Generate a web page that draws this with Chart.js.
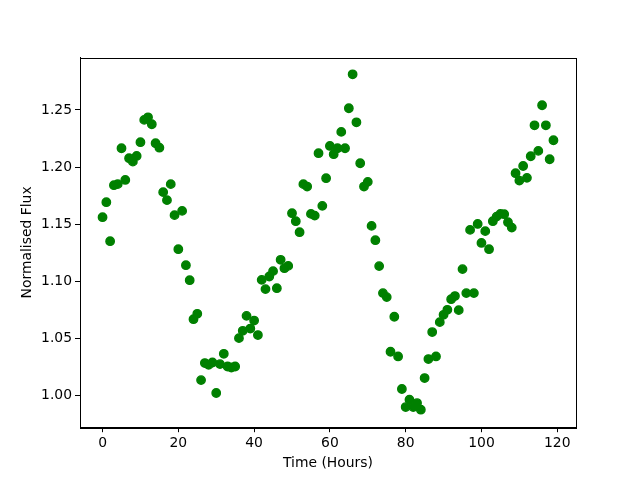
<!DOCTYPE html>
<html>
<head>
<meta charset="utf-8">
<script src="https://cdn.jsdelivr.net/npm/chart.js@4/dist/chart.umd.min.js"></script>
<style>
html,body{margin:0;padding:0;background:#fff;}
#wrap{width:640px;height:480px;}
</style>
</head>
<body>
<div id="wrap"><canvas id="c" width="640" height="480"></canvas></div>
<script>
const timeHours = Array.from({length: 120}, (_, i) => i);
const normalisedFlux = [
  1.1562, 1.1693, 1.1352, 1.1842, 1.1851, 1.2165, 1.1888, 1.2078, 1.2048, 1.2098,
  1.2218, 1.2413, 1.2436, 1.2375, 1.2209, 1.2170, 1.1781, 1.1711, 1.1851, 1.1580,
  1.1282, 1.1617, 1.1142, 1.1011, 1.0670, 1.0717, 1.0137, 1.0286, 1.0271, 1.0291,
  1.0024, 1.0277, 1.0367, 1.0256, 1.0247, 1.0256, 1.0504, 1.0568, 1.0699, 1.0588,
  1.0658, 1.0531, 1.1014, 1.0933, 1.1043, 1.1090, 1.0941, 1.1189, 1.1116, 1.1136,
  1.1597, 1.1527, 1.1431, 1.1851, 1.1830, 1.1591, 1.1576, 1.2122, 1.1661, 1.1903,
  1.2185, 1.2113, 1.2165, 1.2308, 1.2165, 1.2515, 1.2812, 1.2392, 1.2034, 1.1830,
  1.1871, 1.1486, 1.1361, 1.1134, 1.0898, 1.0863, 1.0385, 1.0691, 1.0344, 1.0059,
  0.9901, 0.9965, 0.9901, 0.9936, 0.9878, 1.0155, 1.0321, 1.0557, 1.0344, 1.0644,
  1.0708, 1.0752, 1.0845, 1.0872, 1.0749, 1.1108, 1.0898, 1.1451, 1.0898, 1.1503,
  1.1337, 1.1440, 1.1282, 1.1527, 1.1567, 1.1591, 1.1588, 1.1518, 1.1471, 1.1947,
  1.1882, 1.2010, 1.1906, 1.2095, 1.2366, 1.2142, 1.2541, 1.2366, 1.2069, 1.2235
];
const xTicks = [0, 20, 40, 60, 80, 100, 120];
const yTicks = [1.00, 1.05, 1.10, 1.15, 1.20, 1.25];

const points = timeHours.map((t, i) => ({x: t, y: normalisedFlux[i]}));

const xMin = -5.95, xMax = 124.95;
const yMin = 0.9725, yMax = 1.2958;

const font = {family: 'DejaVu Sans', size: 13.9};

const frame = {
  id: 'frame',
  afterDraw(chart) {
    const {ctx, chartArea: a} = chart;
    ctx.save();
    ctx.strokeStyle = '#000';
    ctx.lineWidth = 1;
    ctx.strokeRect(Math.round(a.left) + 0.5, Math.round(a.top) + 0.5,
                   Math.round(a.right - a.left), Math.round(a.bottom - a.top));
    ctx.restore();
  }
};

new Chart(document.getElementById('c'), {
  type: 'scatter',
  data: {
    datasets: [{
      data: points,
      backgroundColor: '#008000',
      borderColor: '#008000',
      pointRadius: 4.2,
      pointBorderWidth: 1.4,
      pointHoverRadius: 4.2
    }]
  },
  options: {
    responsive: false,
    animation: false,
    devicePixelRatio: 1,
    layout: {padding: {left: 0, right: 64, top: 57.6, bottom: 0}},
    plugins: {legend: {display: false}, tooltip: {enabled: false}},
    scales: {
      x: {
        type: 'linear',
        min: xMin, max: xMax,
        afterBuildTicks(scale) { scale.ticks = xTicks.map(v => ({value: v})); },
        afterFit(scale) { scale.height = 52.8; },
        grid: {display: true, drawOnChartArea: false, drawTicks: true, tickLength: 5, color: '#000'},
        border: {display: true, color: '#000'},
        ticks: {color: '#000', font: font, padding: 3, maxRotation: 0,
                callback: v => String(v)},
        title: {display: true, text: 'Time (Hours)', color: '#000', font: font, padding: {top: 0, bottom: 8}}
      },
      y: {
        type: 'linear',
        min: yMin, max: yMax,
        afterBuildTicks(scale) { scale.ticks = yTicks.map(v => ({value: v})); },
        afterFit(scale) { scale.width = 80; },
        grid: {display: true, drawOnChartArea: false, drawTicks: true, tickLength: 5, color: '#000'},
        border: {display: true, color: '#000'},
        ticks: {color: '#000', font: font, padding: 3,
                callback: v => Number(v).toFixed(2)},
        title: {display: true, text: 'Normalised Flux', color: '#000', font: font, padding: {top: 19, bottom: 0}}
      }
    }
  },
  plugins: [frame]
});
</script>
</body>
</html>
